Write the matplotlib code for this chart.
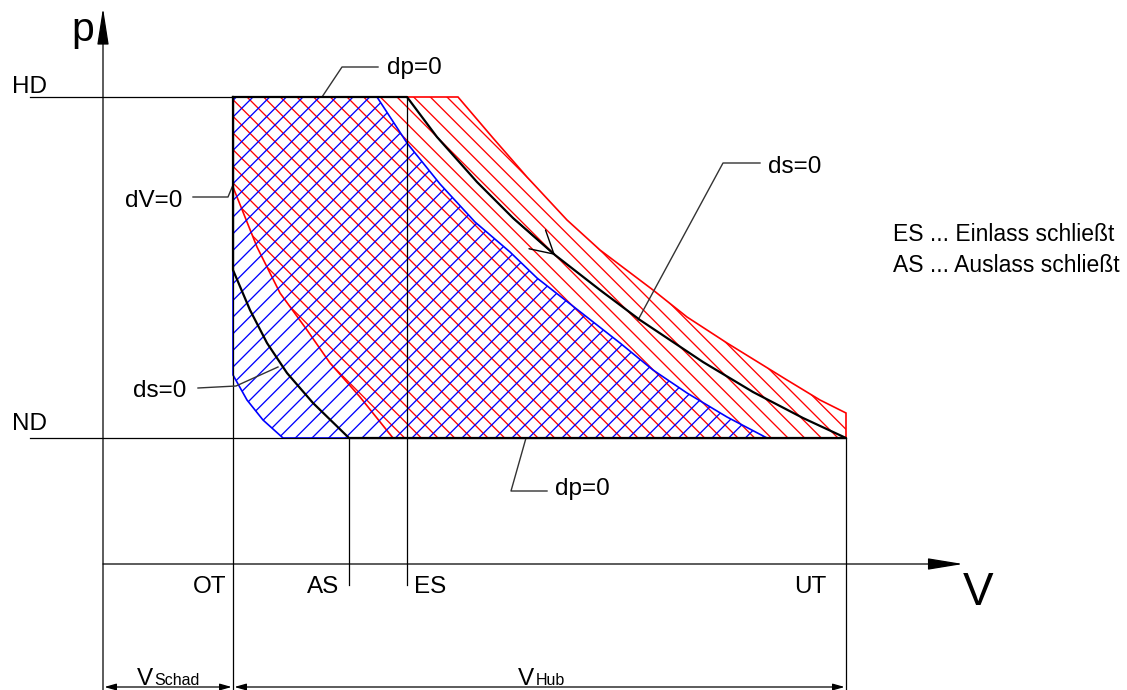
import matplotlib
matplotlib.use('Agg')
import matplotlib.pyplot as plt

plt.rcParams['font.family'] = ['Liberation Sans', 'DejaVu Sans']
plt.rcParams['hatch.linewidth'] = 0.95

# ---- characteristic volumes and pressure levels (drawing units) ----
V_OT, V_AS, V_ES, V_UT = 130, 246, 304, 743
p_HD, p_ND = 467, 126

# ---- black cycle: expansion ES->UT and compression AS->OT (ds=0) ----
exp_black_V = [304, 334, 374, 410, 452, 497, 537, 600, 650, 700, 743]
exp_black_p = [467, 427, 382, 346, 309, 274, 244, 202, 172, 146, 126]
comp_black_V = [246, 210, 184, 164, 147, 130]
comp_black_p = [126, 161, 191, 221, 254, 294]

# ---- red cycle boundaries ----
exp_red_V = [355, 390, 424, 464, 497, 550, 584, 624, 684, 717, 743]
exp_red_p = [467, 426, 387, 344, 314, 274, 247, 221, 184, 164, 151]
comp_red_V = [290, 257, 227, 204, 177, 154, 130]
comp_red_p = [126, 167, 201, 234, 271, 317, 377]

# ---- blue cycle boundaries ----
exp_blue_V = [274, 304, 337, 372, 407, 434, 517, 550, 584, 624, 664]
exp_blue_p = [467, 421, 380, 342, 312, 286, 221, 194, 171, 147, 126]
comp_blue_V = [180, 160, 144, 130]
comp_blue_p = [126, 144, 164, 189]

fig = plt.figure(figsize=(11.27, 6.9), dpi=100)
ax = fig.add_axes([0, 0, 1, 1])
ax.set_xlim(-103, 1024)
ax.set_ylim(-126, 564)
ax.axis('off')

# hatched areas
ax.fill([V_OT] + exp_red_V + [V_UT] + comp_red_V,
        [p_HD] + exp_red_p + [p_ND] + comp_red_p,
        facecolor='none', edgecolor='#ff0000', hatch='\\\\', lw=1.2, zorder=1)
ax.fill([V_OT] + exp_blue_V + comp_blue_V,
        [p_HD] + exp_blue_p + comp_blue_p,
        facecolor='none', edgecolor='#0000ff', hatch='//', lw=1.2, zorder=1)

thin = dict(color='black', lw=0.9, zorder=3)
# level lines
ax.plot([-73, V_OT], [p_HD, p_HD], **thin)
ax.plot([-73, V_UT], [p_ND, p_ND], **thin)
# vertical markers
ax.plot([V_OT, V_OT], [p_HD, -126], **thin)
ax.plot([V_AS, V_AS], [p_ND, -21], **thin)
ax.plot([V_ES, V_ES], [p_HD, -21], **thin)
ax.plot([V_UT, V_UT], [p_ND, -126], **thin)

# black cycle
ax.plot([V_OT] + exp_black_V + comp_black_V + [V_OT],
        [p_HD] + exp_black_p + comp_black_p + [p_HD],
        color='black', lw=1.6, zorder=4, solid_joinstyle='round')

# arrow on expansion curve
ax.annotate('', xy=(exp_black_V[4], exp_black_p[4]),
            xytext=(exp_black_V[3], exp_black_p[3]),
            arrowprops=dict(arrowstyle='->,head_length=1.6,head_width=0.9',
                            color='black', lw=1.0, shrinkA=0, shrinkB=0,
                            mutation_scale=10), zorder=5)

# axes with arrows
ax.annotate('', xy=(0, 556), xytext=(0, -126),
            arrowprops=dict(arrowstyle='-|>,head_length=2.3,head_width=0.36',
                            color='black', lw=0.9, shrinkA=0, shrinkB=0,
                            mutation_scale=10))
ax.annotate('', xy=(860, 0), xytext=(0, 0),
            arrowprops=dict(arrowstyle='-|>,head_length=2.2,head_width=0.36',
                            color='black', lw=0.9, shrinkA=0, shrinkB=0,
                            mutation_scale=10))

# dimension arrows
for a, b in [(0, V_OT), (V_OT, V_UT)]:
    ax.annotate('', xy=(b, -123), xytext=(a, -123),
                arrowprops=dict(arrowstyle='<|-|>,head_length=0.7,head_width=0.2',
                                color='black', lw=0.9, shrinkA=1, shrinkB=1,
                                mutation_scale=10))

# leaders
lead = dict(color='#333333', lw=1.0, zorder=3)
ax.plot([219, 239, 275], [467, 497, 497], **lead)          # dp=0 top
ax.plot([90, 125, 130], [367, 367, 379], **lead)           # dV=0
ax.plot([95, 133, 175], [176, 178, 197], **lead)           # ds=0 left
ax.plot([657, 620, 535], [401, 401, 244], **lead)          # ds=0 right
ax.plot([423, 408, 444], [126, 73, 73], **lead)            # dp=0 bottom

fs = 17.5
ax.text(-9, 523, 'p', fontsize=29.5, ha='right', va='baseline')
ax.text(860, -41, 'V', fontsize=33, ha='left', va='baseline')
ax.text(-91, 471, 'HD', fontsize=fs, va='baseline')
ax.text(-91, 134, 'ND', fontsize=fs, va='baseline')
ax.text(284, 490, 'dp=0', fontsize=fs, va='baseline')
ax.text(22, 357, 'dV=0', fontsize=fs, va='baseline')
ax.text(30, 167, 'ds=0', fontsize=fs, va='baseline')
ax.text(665, 391, 'ds=0', fontsize=fs, va='baseline')
ax.text(452, 69, 'dp=0', fontsize=fs, va='baseline')
ax.text(123, -29, 'OT', fontsize=fs, ha='right', va='baseline')
ax.text(236, -29, 'AS', fontsize=fs, ha='right', va='baseline')
ax.text(311, -29, 'ES', fontsize=fs, ha='left', va='baseline')
ax.text(723, -29, 'UT', fontsize=fs, ha='right', va='baseline')
ax.text(34, -121, 'V', fontsize=fs, va='baseline')
ax.text(51, -121, 'Schad', fontsize=11.5, va='baseline')
ax.text(415, -121, 'V', fontsize=fs, va='baseline')
ax.text(433, -121, 'Hub', fontsize=11.5, va='baseline')
ax.text(790, 323, 'ES ... Einlass schließt', fontsize=16.5, va='baseline')
ax.text(790, 292, 'AS ... Auslass schließt', fontsize=16.5, va='baseline')

fig.savefig('out.png', dpi=100)
